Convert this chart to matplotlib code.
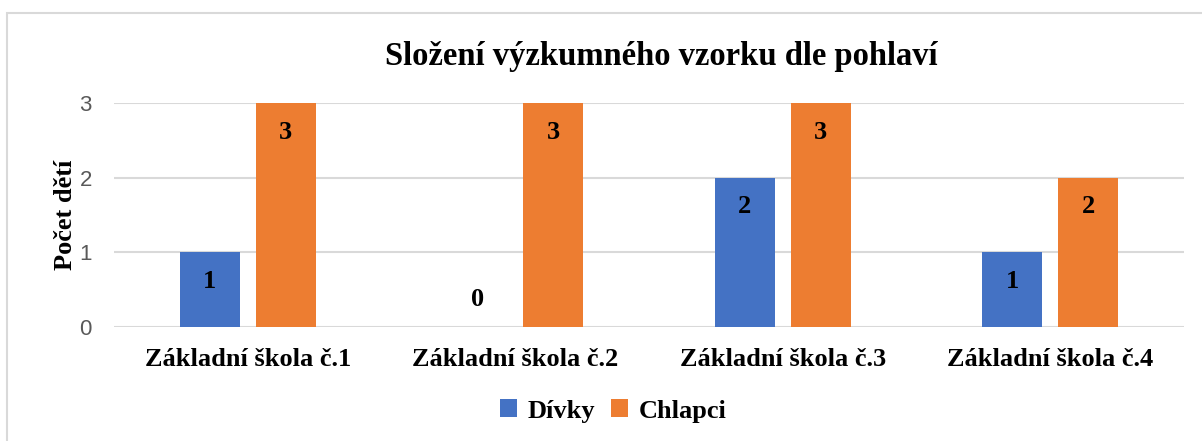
import numpy as np
import matplotlib.pyplot as plt
from matplotlib.patches import Rectangle

# Data
schools = ['Základní škola č.1', 'Základní škola č.2', 'Základní škola č.3', 'Základní škola č.4']
divky = [1, 0, 2, 1]
chlapci = [3, 3, 3, 2]

blue = '#4472C4'
orange = '#ED7D31'
serif = 'Liberation Serif'

fig = plt.figure(figsize=(12.02, 4.41), dpi=100)
ax = fig.add_axes([114 / 1202, 1 - 327 / 441, 1070 / 1202, 224 / 441])

# outer frame like in the Excel chart
fig.patches.append(Rectangle((7 / 1202, -0.05), 1.1, 1 - 13 / 441 + 0.05, transform=fig.transFigure,
                             fill=False, edgecolor='#d9d9d9', linewidth=1.5))

x = np.arange(len(schools))
w = 0.224
off = 0.142
b1 = ax.bar(x - off, divky, w, color=blue, label='Dívky', zorder=3)
b2 = ax.bar(x + off, chlapci, w, color=orange, label='Chlapci', zorder=3)

# value labels inside the bar ends
for bars, vals in ((b1, divky), (b2, chlapci)):
    for bar, v in zip(bars, vals):
        dy = -21 if v > 0 else 20
        ax.annotate(str(v), (bar.get_x() + bar.get_width() / 2, v), xytext=(0, dy),
                    textcoords='offset points', ha='center', va='center',
                    fontsize=19, fontweight='bold', family=serif, color='black', zorder=4)

ax.set_xlim(-0.5, 3.5)
ax.set_ylim(0, 3)
ax.set_yticks([0, 1, 2, 3])
ax.yaxis.grid(True, color='#d9d9d9', linewidth=1.5, zorder=0)
ax.set_axisbelow(True)
for s in ax.spines.values():
    s.set_visible(False)
ax.tick_params(axis='both', length=0)
ax.tick_params(axis='y', labelsize=16, labelcolor='#595959', pad=16)
ax.set_xticks(x)
ax.set_xticklabels(schools, fontsize=19, fontweight='bold', family=serif)
ax.tick_params(axis='x', pad=15)
for lab in ax.get_yticklabels():
    lab.set_family('Liberation Sans')

ax.set_ylabel('Počet dětí', fontsize=19, fontweight='bold', family=serif, labelpad=2)
fig.text(0.55, 1 - 57 / 441, 'Složení výzkumného vzorku dle pohlaví', ha='center', va='center',
         fontsize=23.5, fontweight='bold', family=serif)

fig.legend(handles=[b1, b2], loc='center', bbox_to_anchor=(0.51, 1 - 411 / 441), ncol=2, frameon=False,
           prop={'family': serif, 'weight': 'bold', 'size': 19}, handlelength=0.65, handleheight=0.65,
           handletextpad=0.4, columnspacing=0.6)

plt.savefig('out.png', dpi=100)
